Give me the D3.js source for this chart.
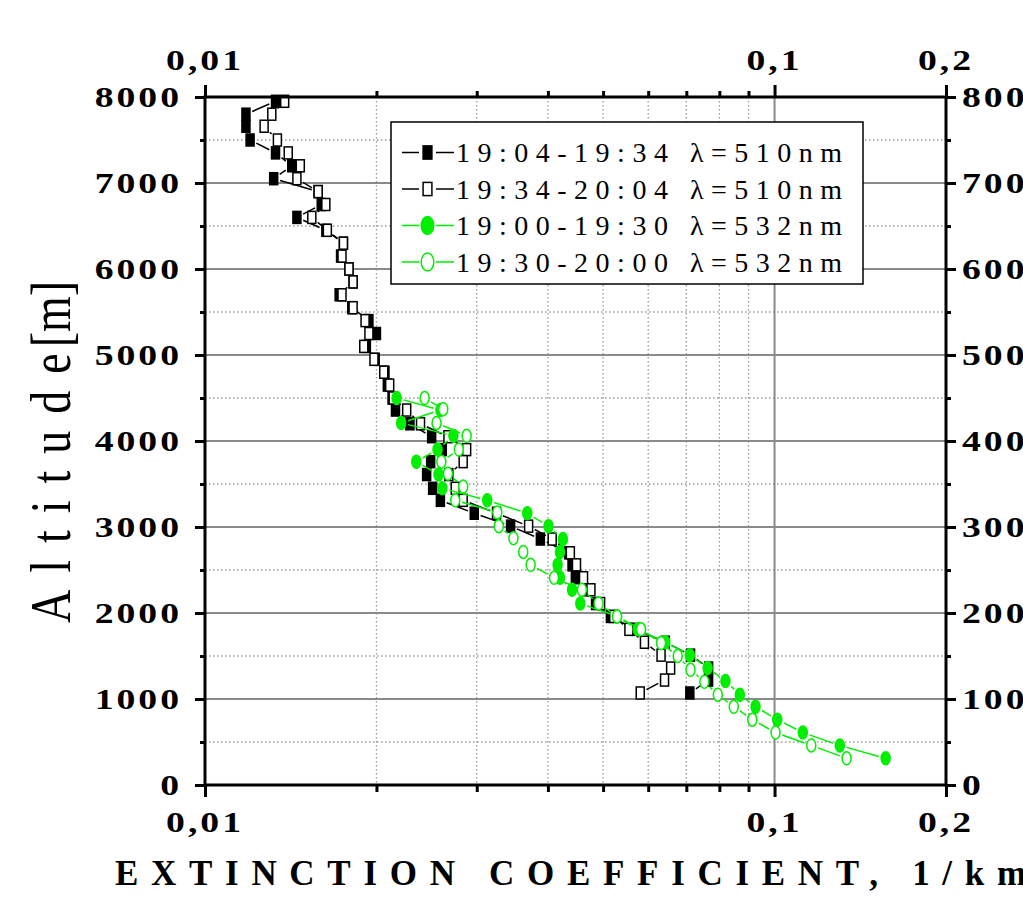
<!DOCTYPE html>
<html>
<head>
<meta charset="utf-8">
<script src="https://cdn.jsdelivr.net/npm/d3@7"></script>
<style>
  body { margin: 0; background: #fff; }
  svg { display: block; }
  text { font-family: "Liberation Serif", "Times New Roman", serif; }
</style>
</head>
<body>
<div id="chart"></div>
<script>
// values
var altBlack = [7950, 7800, 7660, 7500, 7350, 7200, 7050, 6900, 6750, 6600, 6450, 6300, 6150, 6000,
  5850, 5700, 5550, 5400, 5250, 5100, 4950, 4800, 4650, 4500, 4360, 4200, 4050, 3900, 3760, 3610,
  3450, 3310, 3160, 3010, 2860, 2700, 2560, 2410, 2270, 2110, 1960, 1810, 1660, 1510, 1360, 1220, 1070]
var ext1904 = [0.0133, 0.0118, 0.0118, 0.0120, 0.0133, 0.0142, 0.0132, 0.0158, 0.0160, 0.0145, 0.0163,
  0.0175, 0.0173, 0.0179, 0.0182, 0.0172, 0.0181, 0.0194, 0.0200, 0.0192, 0.0199, 0.0207, 0.0209,
  0.0213, 0.0216, 0.0229, 0.0250, 0.0261, 0.0249, 0.0245, 0.0251, 0.0259, 0.0297, 0.0344, 0.0388,
  0.0435, 0.0441, 0.0447, 0.0465, 0.0485, 0.0515, 0.0570, 0.0643, 0.0712, 0.0766, 0.0766, 0.0710]
var ext1934 = [0.0138, 0.0131, 0.0127, 0.0134, 0.0140, 0.0147, 0.0145, 0.0158, 0.0163, 0.0154, 0.0164,
  0.0175, 0.0174, 0.0179, 0.0182, 0.0174, 0.0182, 0.0191, 0.0194, 0.0190, 0.0198, 0.0206, 0.0211,
  0.0214, 0.0226, 0.0239, 0.0267, 0.0288, 0.0284, 0.0268, 0.0275, 0.0284, 0.0325, 0.0370, 0.0407,
  0.0438, 0.0449, 0.0462, 0.0476, 0.0495, 0.0522, 0.0555, 0.0591, 0.0632, 0.0657, 0.0641, 0.0581]
var alt1900 = [4500, 4360, 4210, 4060, 3900, 3760, 3610, 3450, 3310, 3160, 3010, 2860, 2710, 2560,
  2410, 2270, 2110, 1960, 1810, 1660, 1510, 1360, 1210, 1050, 910, 760, 610, 460, 310]
var ext1900 = [0.0217, 0.0259, 0.0221, 0.0273, 0.0256, 0.0235, 0.0257, 0.0261, 0.0313, 0.0368, 0.0401,
  0.0425, 0.0420, 0.0416, 0.0420, 0.0441, 0.0456, 0.0529, 0.0575, 0.0643, 0.0710, 0.0763, 0.0820,
  0.0869, 0.0926, 0.1011, 0.1121, 0.1302, 0.1567]
var alt1930 = [4500, 4370, 4210, 4060, 3900, 3760, 3620, 3470, 3310, 3170, 3010, 2870, 2710, 2560,
  2410, 2270, 2110, 1960, 1810, 1650, 1500, 1340, 1200, 1050, 910, 760, 610, 460, 310]
var ext1930 = [0.0243, 0.0262, 0.0255, 0.0288, 0.0279, 0.0260, 0.0267, 0.0284, 0.0275, 0.0326, 0.0328,
  0.0348, 0.0362, 0.0373, 0.0410, 0.0459, 0.0491, 0.0529, 0.0583, 0.0632, 0.0676, 0.0712, 0.0753,
  0.0795, 0.0848, 0.0914, 0.1004, 0.1160, 0.1338]

var seriesLabels = ["19:04-19:34 \u03bb=510nm", "19:34-20:04 \u03bb=510nm",
  "19:00-19:30 \u03bb=532nm", "19:30-20:00 \u03bb=532nm"]

var xTicks = [0.01, 0.1, 0.2]
var xTickLabels = ["0,01", "0,1", "0,2"]
var xMinor = [0.02, 0.03, 0.04, 0.05, 0.06, 0.07, 0.08, 0.09]
var yTicks = [0, 1000, 2000, 3000, 4000, 5000, 6000, 7000, 8000]
var yMinor = [500, 1500, 2500, 3500, 4500, 5500, 6500, 7500]

var GREEN = "#00ee00"
var series = [
  { alt: altBlack, ext: ext1904, color: "#000", shape: "rect", filled: true },
  { alt: altBlack, ext: ext1934, color: "#000", shape: "rect", filled: false },
  { alt: alt1900, ext: ext1900, color: GREEN, shape: "ellipse", filled: true },
  { alt: alt1930, ext: ext1930, color: GREEN, shape: "ellipse", filled: false }
]

var W = 1023, H = 907
var plot = { left: 205, right: 946, top: 97, bottom: 785 }

var svg = d3.select("#chart").append("svg")
  .attr("width", W).attr("height", H)
svg.append("rect").attr("width", W).attr("height", H).attr("fill", "#fff")

var x = d3.scaleLog().domain([0.01, 0.2]).range([plot.left, plot.right])
var y = d3.scaleLinear().domain([0, 8000]).range([plot.bottom, plot.top])

// grid
var grid = svg.append("g")
grid.selectAll(".vminor").data(xMinor).enter().append("line")
  .attr("x1", d => x(d)).attr("x2", d => x(d))
  .attr("y1", plot.top).attr("y2", plot.bottom)
  .attr("stroke", "#999").attr("stroke-width", 1.3).attr("stroke-dasharray", "1.5,2.5")
grid.selectAll(".hminor").data(yMinor).enter().append("line")
  .attr("x1", plot.left).attr("x2", plot.right)
  .attr("y1", d => y(d)).attr("y2", d => y(d))
  .attr("stroke", "#999").attr("stroke-width", 1.3).attr("stroke-dasharray", "1.5,2.5")
grid.selectAll(".vmajor").data([0.1]).enter().append("line")
  .attr("x1", d => x(d)).attr("x2", d => x(d))
  .attr("y1", plot.top).attr("y2", plot.bottom)
  .attr("stroke", "#8a8a8a").attr("stroke-width", 2)
grid.selectAll(".hmajor").data(yTicks.slice(1, -1)).enter().append("line")
  .attr("x1", plot.left).attr("x2", plot.right)
  .attr("y1", d => y(d)).attr("y2", d => y(d))
  .attr("stroke", "#8a8a8a").attr("stroke-width", 2)

// marker half sizes
function halfSize(shape) { return shape == "rect" ? [4, 6] : [4.5, 6.5] }

function edgeDist(shape, ux, uy) {
  var h = halfSize(shape)
  if (shape == "rect") {
    var a = Math.abs(ux) > 1e-6 ? h[0] / Math.abs(ux) : 1e9
    var b = Math.abs(uy) > 1e-6 ? h[1] / Math.abs(uy) : 1e9
    return Math.min(a, b)
  }
  return 1 / Math.sqrt((ux / h[0]) * (ux / h[0]) + (uy / h[1]) * (uy / h[1]))
}

function drawMarker(g, shape, cx, cy, color, filled, scale) {
  var h = halfSize(shape)
  var s = scale || 1
  if (shape == "rect") {
    g.append("rect")
      .attr("x", cx - h[0] * s).attr("y", cy - h[1] * s)
      .attr("width", 2 * h[0] * s).attr("height", 2 * h[1] * s)
      .attr("fill", filled ? color : "#fff")
      .attr("stroke", color).attr("stroke-width", 1.5)
  } else {
    g.append("ellipse")
      .attr("cx", cx).attr("cy", cy)
      .attr("rx", h[0] * s).attr("ry", h[1] * s)
      .attr("fill", filled ? color : "#fff")
      .attr("stroke", color).attr("stroke-width", 1.5)
  }
}

series.forEach(function (s) {
  var g = svg.append("g")
  var pts = s.ext.map((v, i) => [x(v), y(s.alt[i])])
  // line segments stop short of the markers
  for (var i = 0; i < pts.length - 1; i++) {
    var p = pts[i], q = pts[i + 1]
    var dx = q[0] - p[0], dy = q[1] - p[1]
    var len = Math.sqrt(dx * dx + dy * dy)
    var ux = dx / len, uy = dy / len
    var gap = edgeDist(s.shape, ux, uy) + 2.5
    if (len <= 2 * gap + 1) continue
    g.append("line")
      .attr("x1", p[0] + ux * gap).attr("y1", p[1] + uy * gap)
      .attr("x2", q[0] - ux * gap).attr("y2", q[1] - uy * gap)
      .attr("stroke", s.color).attr("stroke-width", 1.5)
  }
  pts.forEach(function (p) { drawMarker(g, s.shape, p[0], p[1], s.color, s.filled) })
})

// frame and ticks
svg.append("rect")
  .attr("x", plot.left).attr("y", plot.top)
  .attr("width", plot.right - plot.left).attr("height", plot.bottom - plot.top)
  .attr("fill", "none").attr("stroke", "#000").attr("stroke-width", 3)

function tickAxis(axis, tx, ty) {
  var g = svg.append("g").attr("transform", "translate(" + tx + "," + ty + ")").call(axis)
  g.select(".domain").remove()
  g.selectAll(".tick line").attr("stroke", "#000").attr("stroke-width", 3)
  g.selectAll(".tick text").remove()
}
tickAxis(d3.axisBottom(x).tickValues(xTicks).tickSize(12).tickSizeOuter(0), 0, plot.bottom)
tickAxis(d3.axisBottom(x).tickValues(xMinor).tickSize(7).tickSizeOuter(0), 0, plot.bottom)
tickAxis(d3.axisTop(x).tickValues(xTicks).tickSize(12).tickSizeOuter(0), 0, plot.top)
tickAxis(d3.axisTop(x).tickValues(xMinor).tickSize(6).tickSizeOuter(0), 0, plot.top)
tickAxis(d3.axisLeft(y).tickValues(yTicks).tickSize(10).tickSizeOuter(0), plot.left, 0)
tickAxis(d3.axisLeft(y).tickValues(yMinor).tickSize(5).tickSizeOuter(0), plot.left, 0)
tickAxis(d3.axisRight(y).tickValues(yTicks).tickSize(10).tickSizeOuter(0), plot.right, 0)
tickAxis(d3.axisRight(y).tickValues(yMinor).tickSize(5).tickSizeOuter(0), plot.right, 0)

// tick labels (wide bold serif)
function tickLabel(txt, px, py, anchor) {
  svg.append("text")
    .attr("transform", "translate(" + px + "," + py + ") scale(1.3,1)")
    .attr("text-anchor", anchor)
    .attr("font-size", 29).attr("font-weight", "bold")
    .attr("letter-spacing", 2.3)
    .text(txt)
}
yTicks.forEach(function (v) {
  tickLabel(v, 182, y(v) + 10, "end")
  tickLabel(v, 962, y(v) + 10, "start")
})
xTicks.forEach(function (v, i) {
  tickLabel(xTickLabels[i], x(v), 70, "middle")
  tickLabel(xTickLabels[i], x(v), 832, "middle")
})

// axis titles
svg.append("text")
  .attr("x", 115).attr("y", 885)
  .attr("font-size", 35).attr("font-weight", "bold")
  .attr("letter-spacing", 12.7)
  .text("EXTINCTION COEFFICIENT, 1/km")

var yTitle = svg.append("text")
  .attr("transform", "translate(70,452) rotate(-90) scale(1,1.25)")
  .attr("text-anchor", "middle")
  .attr("font-size", 46)
yTitle.append("tspan").attr("letter-spacing", 17).text("Altitude")
yTitle.append("tspan").attr("letter-spacing", 0).attr("dx", -11).text("[m]")

// legend
var lg = svg.append("g")
lg.append("rect")
  .attr("x", 391).attr("y", 122).attr("width", 472).attr("height", 162)
  .attr("fill", "#fff").attr("stroke", "#000").attr("stroke-width", 1.5)
series.forEach(function (s, i) {
  var base = 162 + i * 36.5
  var cy = base - 9.5
  lg.append("line").attr("x1", 402).attr("x2", 419).attr("y1", cy).attr("y2", cy)
    .attr("stroke", s.color).attr("stroke-width", 1.5)
  lg.append("line").attr("x1", 436).attr("x2", 454).attr("y1", cy).attr("y2", cy)
    .attr("stroke", s.color).attr("stroke-width", 1.5)
  drawMarker(lg, s.shape, 427.5, cy, s.color, s.filled, s.shape == "rect" ? 1.1 : 1.4)
  lg.append("text")
    .attr("x", 456).attr("y", base)
    .attr("font-size", 28).attr("letter-spacing", 7.5)
    .text(seriesLabels[i])
})
</script>
</body>
</html>
